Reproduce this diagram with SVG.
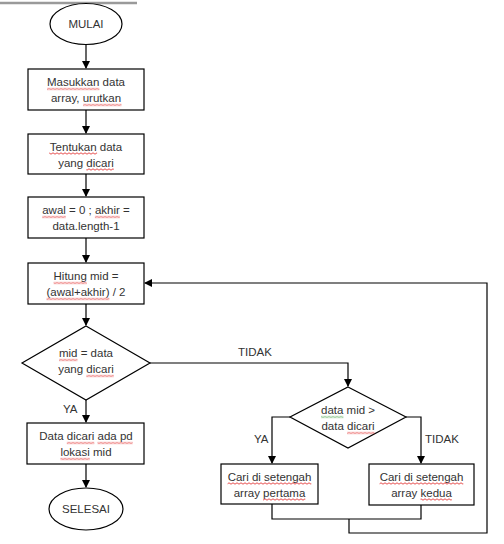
<svg xmlns="http://www.w3.org/2000/svg" width="504" height="544" viewBox="0 0 504 544">
<style>
.s{fill:#fff;stroke:#000;stroke-width:1.2}
.t{font-family:"Liberation Sans",Arial,sans-serif;font-size:11.5px;fill:#333;text-anchor:middle}
.l{font-family:"Liberation Sans",Arial,sans-serif;font-size:11.5px;fill:#333}
.c{fill:none;stroke:#000;stroke-width:1.2}
.w{fill:url(#wr)}
.wg{fill:url(#wgp)}
</style>
<defs>
<marker id="a" markerWidth="8" markerHeight="8" refX="7" refY="4" orient="auto" markerUnits="userSpaceOnUse">
<path d="M0,0 L8,4 L0,8 Z" fill="#000"/>
</marker>
<pattern id="wr" patternUnits="userSpaceOnUse" width="4" height="3">
<path d="M-1,2.2 L1,0.8 L3,2.2 L5,0.8" fill="none" stroke="#e02020" stroke-width="0.8"/>
</pattern>
<pattern id="wgp" patternUnits="userSpaceOnUse" width="4" height="3">
<path d="M-1,2.2 L1,0.8 L3,2.2 L5,0.8" fill="none" stroke="#3a9a3a" stroke-width="0.8"/>
</pattern>
</defs>
<rect width="504" height="544" fill="#fff"/>
<line x1="0" y1="3" x2="137" y2="3" stroke="#9a9a9a" stroke-width="2.5"/>
<g id="connectors">
<path class="c" d="M86,45 V68" marker-end="url(#a)"/>
<path class="c" d="M86,110 V133" marker-end="url(#a)"/>
<path class="c" d="M86,174 V196" marker-end="url(#a)"/>
<path class="c" d="M86,238 V262" marker-end="url(#a)"/>
<path class="c" d="M86,304 V325" marker-end="url(#a)"/>
<path class="c" d="M86,400 V422" marker-end="url(#a)"/>
<path class="c" d="M86,464 V487" marker-end="url(#a)"/>
<path class="c" d="M150,363 H348 V386" marker-end="url(#a)"/>
<path class="c" d="M290,417 H272 V463" marker-end="url(#a)"/>
<path class="c" d="M406,417 H421 V463" marker-end="url(#a)"/>
<path class="c" d="M272,504 V519 H421 V505"/>
<path class="c" d="M349,519 V533 H487 V283 H145" marker-end="url(#a)"/>
<text class="l" x="238" y="356">TIDAK</text>
<text class="l" x="63" y="413">YA</text>
<text class="l" x="254" y="443">YA</text>
<text class="l" x="425" y="443">TIDAK</text>
</g>
<g id="mulai">
<ellipse class="s" cx="86" cy="24" rx="36" ry="20.5"/>
<text class="t" x="86" y="28">MULAI</text>
</g>
<g id="masukkan">
<rect class="s" x="28" y="69" width="116" height="41"/>
<text class="t" x="86" y="86"><tspan>Masukkan</tspan> data</text>
<text class="t" x="86" y="102">array, <tspan>urutkan</tspan></text>
<rect class="w" x="47" y="0" width="52.4" height="3" transform="translate(0,87.5)"/>
<rect class="w" x="83.1" y="0" width="38.4" height="3" transform="translate(0,103.5)"/>
</g>
<g id="tentukan">
<rect class="s" x="28" y="134" width="116" height="40"/>
<text class="t" x="86" y="150.5"><tspan>Tentukan</tspan> data</text>
<text class="t" x="86" y="166.5">yang <tspan>dicari</tspan></text>
<rect class="w" x="49.2" y="0" width="47.9" height="3" transform="translate(0,152)"/>
<rect class="w" x="86.3" y="0" width="27.5" height="3" transform="translate(0,168)"/>
</g>
<g id="awal">
<rect class="s" x="28" y="197" width="116" height="41"/>
<text class="t" x="86" y="214"><tspan>awal</tspan> = 0 ; <tspan>akhir</tspan> =</text>
<text class="t" x="86" y="230">data.length-1</text>
<rect class="w" x="42.2" y="0" width="23.6" height="3" transform="translate(0,215.5)"/>
<rect class="w" x="94.9" y="0" width="24.9" height="3" transform="translate(0,215.5)"/>
</g>
<g id="hitung">
<rect class="s" x="28" y="263" width="116" height="41"/>
<text class="t" x="86" y="280"><tspan>Hitung</tspan> mid =</text>
<text class="t" x="86" y="296"><tspan>(awal+akhir)</tspan> / 2</text>
<rect class="w" x="53.6" y="0" width="33.2" height="3" transform="translate(0,281.5)"/>
<rect class="w" x="46.5" y="0" width="62.9" height="3" transform="translate(0,297.5)"/>
</g>
<g id="cek1">
<polygon class="s" points="86,326 150,363 86,400 22,363"/>
<text class="t" x="86" y="357"><tspan>mid</tspan> = data</text>
<text class="t" x="86" y="373">yang <tspan>dicari</tspan></text>
<rect class="w" x="59" y="0" width="18.5" height="3" transform="translate(0,358.5)"/>
<rect class="w" x="86.3" y="0" width="27.5" height="3" transform="translate(0,374.5)"/>
</g>
<g id="ditemukan">
<rect class="s" x="27" y="423" width="117" height="41"/>
<text class="t" x="86" y="440">Data <tspan>dicari</tspan> <tspan>ada pd</tspan></text>
<text class="t" x="86" y="456"><tspan>lokasi</tspan> mid</text>
<rect class="w" x="66.8" y="0" width="27.5" height="3" transform="translate(0,441.5)"/>
<rect class="w" x="97.5" y="0" width="35.2" height="3" transform="translate(0,441.5)"/>
<rect class="w" x="60.4" y="0" width="29.4" height="3" transform="translate(0,457.5)"/>
</g>
<g id="selesai">
<ellipse class="s" cx="86" cy="509" rx="37" ry="21"/>
<text class="t" x="86" y="513">SELESAI</text>
</g>
<g id="cek2">
<polygon class="s" points="348,387 406,417 348,448 290,417"/>
<text class="t" x="348" y="414"><tspan>data</tspan> mid &gt;</text>
<text class="t" x="348" y="430">data <tspan>dicari</tspan></text>
<rect class="wg" x="321" y="0" width="22.4" height="3" transform="translate(0,415.5)"/>
<rect class="w" x="347.1" y="0" width="27.5" height="3" transform="translate(0,431.5)"/>
</g>
<g id="kiri">
<rect class="s" x="221" y="464" width="97" height="40"/>
<text class="t" x="269.5" y="480.5"><tspan>Cari di setengah</tspan></text>
<text class="t" x="269.5" y="496.5">array <tspan>pertama</tspan></text>
<rect class="w" x="227.6" y="0" width="83.7" height="3" transform="translate(0,482)"/>
<rect class="w" x="263.1" y="0" width="42.2" height="3" transform="translate(0,498)"/>
</g>
<g id="kanan">
<rect class="s" x="369" y="464" width="105" height="41"/>
<text class="t" x="421.5" y="480.5"><tspan>Cari di setengah</tspan></text>
<text class="t" x="421.5" y="496.5">array <tspan>kedua</tspan></text>
<rect class="w" x="379.6" y="0" width="83.7" height="3" transform="translate(0,482)"/>
<rect class="w" x="420.5" y="0" width="31.3" height="3" transform="translate(0,498)"/>
</g>
</svg>
